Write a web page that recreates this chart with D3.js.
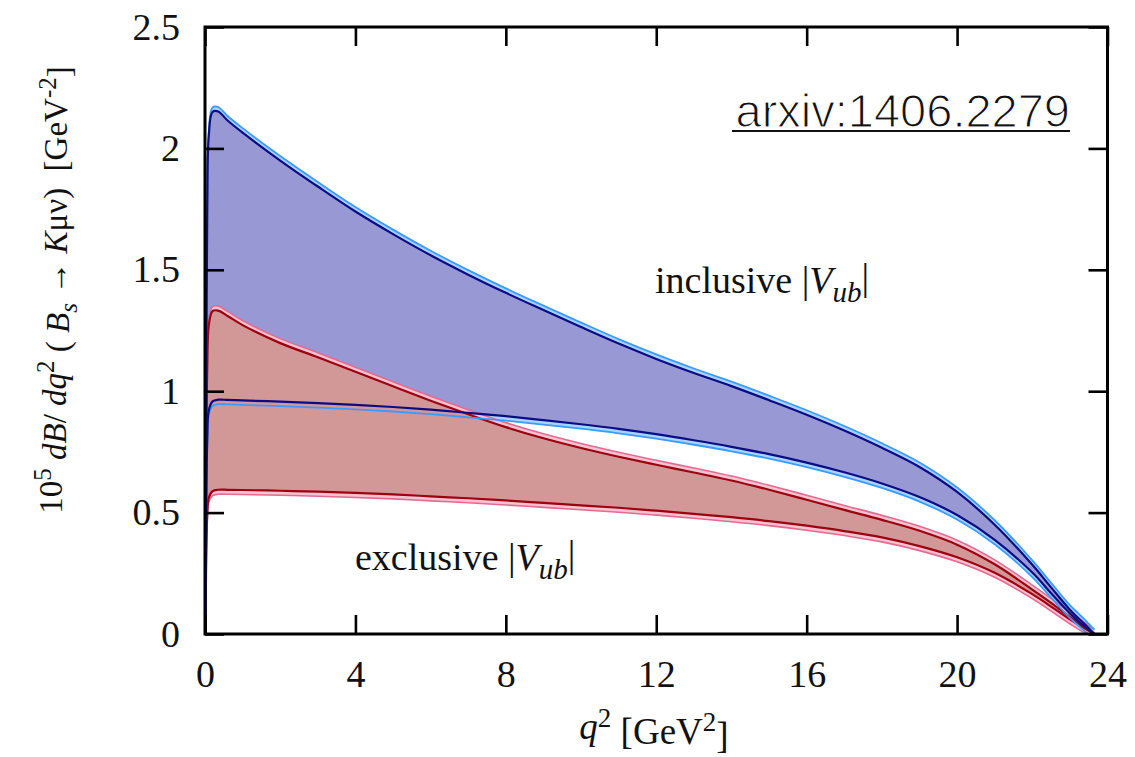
<!DOCTYPE html>
<html>
<head>
<meta charset="utf-8">
<script src="https://cdn.jsdelivr.net/npm/d3@7"></script>
<style>
  html, body { margin: 0; padding: 0; background: #fff; }
  svg { display: block; }
  .serif { font-family: "Liberation Serif", "DejaVu Serif", serif; fill: #111; }
</style>
</head>
<body>
<svg id="chart" width="1135" height="757"></svg>
<script>
// ---- data ----
const q2 = [0.0112, 0.03, 0.06, 0.1, 0.2, 0.35, 0.6, 1, 2, 3, 4, 5, 6, 7, 8, 9, 10, 11, 12, 13, 14, 15, 16, 17, 18, 19, 20, 21, 22, 22.5, 23, 23.4, 23.65];

const inclusiveUpper = [0, 1.0, 1.75, 2.05, 2.15, 2.152, 2.115, 2.065, 1.95, 1.843, 1.74, 1.647, 1.56, 1.48, 1.405, 1.334, 1.264, 1.196, 1.133, 1.075, 1.021, 0.963, 0.903, 0.838, 0.767, 0.688, 0.585, 0.45, 0.285, 0.192, 0.1, 0.04, 0];
const inclusiveLower = [0, 0.45, 0.8, 0.92, 0.958, 0.965, 0.964, 0.962, 0.957, 0.951, 0.944, 0.935, 0.924, 0.911, 0.897, 0.881, 0.864, 0.845, 0.823, 0.798, 0.771, 0.741, 0.706, 0.666, 0.62, 0.564, 0.49, 0.388, 0.253, 0.168, 0.085, 0.03, 0];
const exclusiveUpper = [0, 0.62, 1.1, 1.27, 1.33, 1.332, 1.31, 1.272, 1.198, 1.14, 1.08, 1.02, 0.961, 0.905, 0.852, 0.806, 0.766, 0.73, 0.697, 0.665, 0.632, 0.594, 0.553, 0.511, 0.47, 0.425, 0.368, 0.287, 0.183, 0.128, 0.07, 0.026, 0];
const exclusiveLower = [0, 0.28, 0.49, 0.56, 0.588, 0.594, 0.594, 0.593, 0.59, 0.586, 0.581, 0.575, 0.567, 0.559, 0.55, 0.54, 0.53, 0.52, 0.508, 0.495, 0.481, 0.465, 0.446, 0.424, 0.398, 0.362, 0.316, 0.252, 0.164, 0.113, 0.06, 0.022, 0];

const xTicks = [0, 4, 8, 12, 16, 20, 24];
const xTickLabels = ["0", "4", "8", "12", "16", "20", "24"];
const yTicks = [0, 0.5, 1, 1.5, 2, 2.5];
const yTickLabels = ["0", "0.5", "1", "1.5", "2", "2.5"];

// ---- layout ----
const pL = 205, pR = 1107.5, pT = 27, pB = 634;
const svg = d3.select("#chart");
const x = d3.scaleLinear().domain([0, 24]).range([pL, pR]);
const y = d3.scaleLinear().domain([0, 2.5]).range([pB, pT]);

svg.append("defs").append("clipPath").attr("id", "plotClip")
  .append("rect").attr("x", pL).attr("y", pT)
  .attr("width", pR - pL).attr("height", pB - pT);

const g = svg.append("g").attr("clip-path", "url(#plotClip)");
const curve = d3.curveCatmullRom.alpha(0.5);
const idx = d3.range(q2.length);

function band(lo, hi, fill) {
  g.append("path").datum(idx)
    .attr("d", d3.area().curve(curve).x(i => x(q2[i])).y0(i => y(lo[i])).y1(i => y(hi[i])))
    .attr("fill", fill);
}
function fringeFill(vals, dir, fill) {
  g.append("path").datum(idx)
    .attr("d", d3.area().curve(curve).x(i => x(q2[i])).y0(i => y(vals[i])).y1(i => y(vals[i]) + dir * 4.5))
    .attr("fill", fill);
}
function line(vals, off, color, w) {
  g.append("path").datum(idx)
    .attr("d", d3.line().curve(curve).x(i => x(q2[i])).y(i => y(vals[i]) + off))
    .attr("fill", "none").attr("stroke", color).attr("stroke-width", w)
    .attr("stroke-linejoin", "round");
}

const blueFill = "#9899d4", blueFringe = "#a9d3ff", blueOuter = "#3a9bff", navy = "#0b0b86";
const redFill = "#d29898", redFringe = "#f4c3d1", redOuter = "#e56a90", darkRed = "#9e0010";

band(inclusiveLower, inclusiveUpper, blueFill);
fringeFill(inclusiveUpper, -1, blueFringe);
fringeFill(inclusiveLower, 1, blueFringe);
band(exclusiveLower, exclusiveUpper, redFill);
fringeFill(exclusiveUpper, -1, redFringe);
fringeFill(exclusiveLower, 1, redFringe);

line(exclusiveUpper, -4.5, redOuter, 1.6);
line(exclusiveLower, 4.5, redOuter, 1.6);
line(exclusiveUpper, 0, darkRed, 2.2);
line(exclusiveLower, 0, darkRed, 2.2);
line(inclusiveUpper, -4.5, blueOuter, 1.8);
line(inclusiveLower, 4.5, blueOuter, 1.8);
line(inclusiveUpper, 0, navy, 2.2);
line(inclusiveLower, 0, navy, 2.2);

// ---- axes ----
const fontSize = 38;
function styleAxis(sel) {
  sel.select(".domain").remove();
  sel.selectAll(".tick line").attr("stroke", "#000").attr("stroke-width", 2.6);
  sel.selectAll(".tick text").attr("class", "serif").style("font-size", fontSize + "px").attr("fill", "#111");
}
svg.append("g").attr("transform", `translate(0,${pB})`)
  .call(d3.axisBottom(x).tickValues(xTicks).tickFormat((d, i) => xTickLabels[i]).tickSizeInner(-19).tickSizeOuter(0).tickPadding(26))
  .call(styleAxis);
svg.append("g").attr("transform", `translate(0,${pT})`)
  .call(d3.axisTop(x).tickValues(xTicks).tickFormat("").tickSizeInner(-19).tickSizeOuter(0))
  .call(styleAxis);
svg.append("g").attr("transform", `translate(${pL},0)`)
  .call(d3.axisLeft(y).tickValues(yTicks).tickFormat((d, i) => yTickLabels[i]).tickSizeInner(-19).tickSizeOuter(0).tickPadding(25))
  .call(styleAxis);
svg.append("g").attr("transform", `translate(${pR},0)`)
  .call(d3.axisRight(y).tickValues(yTicks).tickFormat("").tickSizeInner(-19).tickSizeOuter(0))
  .call(styleAxis);

svg.append("rect").attr("x", pL).attr("y", pT)
  .attr("width", pR - pL).attr("height", pB - pT)
  .attr("fill", "none").attr("stroke", "#000").attr("stroke-width", 3);

// ---- text ----
function rich(parent, parts) {
  parts.forEach(p => {
    const t = parent.append("tspan").text(p.t);
    if (p.i) t.style("font-style", "italic");
    if (p.dy) t.attr("dy", p.dy);
    if (p.fs) t.style("font-size", p.fs);
  });
}
// x label
const xl = svg.append("text").attr("class", "serif").attr("x", 654).attr("y", 739)
  .attr("text-anchor", "middle").style("font-size", "37px");
rich(xl, [
  { t: "q", i: true },
  { t: "2", dy: "-0.45em", fs: "27px" },
  { t: " [GeV", dy: "0.45em" },
  { t: "2", dy: "-0.45em", fs: "27px" },
  { t: "]", dy: "0.45em" }
]);

// y label
const yl = svg.append("text").attr("class", "serif")
  .attr("transform", "translate(62,290) rotate(-90)")
  .attr("text-anchor", "middle").style("font-size", "33px");
rich(yl, [
  { t: "10" },
  { t: "5", dy: "-0.45em", fs: "25px" },
  { t: "\u00a0d", dy: "0.45em", i: true },
  { t: "B", i: true },
  { t: "/\u00a0" },
  { t: "dq", i: true },
  { t: "2", dy: "-0.45em", fs: "25px" },
  { t: "\u00a0(\u00a0", dy: "0.45em" },
  { t: "B", i: true },
  { t: "s", i: true, dy: "0.3em", fs: "25px" },
  { t: "\u00a0\u2192\u00a0", dy: "-0.3em" },
  { t: "K", i: true },
  { t: "\u03bc\u03bd)\u00a0\u00a0[GeV" },
  { t: "-2", dy: "-0.45em", fs: "25px" },
  { t: "]", dy: "0.45em" }
]);

// band labels
function vubLabel(word, xPos, yPos) {
  const t = svg.append("text").attr("class", "serif").attr("x", xPos).attr("y", yPos)
    .style("font-size", fontSize + "px");
  rich(t, [
    { t: word + " |" },
    { t: "V", i: true },
    { t: "ub", i: true, dy: "0.3em", fs: "29px" },
    { t: "|", dy: "-0.3em" }
  ]);
}
vubLabel("inclusive", 655, 293);
vubLabel("exclusive", 355, 570);

// arxiv tag
svg.append("text").attr("x", 1070).attr("y", 127).attr("text-anchor", "end")
  .style("font-family", "'Liberation Sans', Arial, Helvetica, sans-serif")
  .style("font-size", "47px")
  .attr("fill", "#111").attr("stroke", "#fff").attr("stroke-width", 1.2)
  .text("arxiv:1406.2279");
svg.append("line").attr("x1", 732).attr("x2", 1070).attr("y1", 131).attr("y2", 131)
  .attr("stroke", "#111").attr("stroke-width", 2);
</script>
</body>
</html>
